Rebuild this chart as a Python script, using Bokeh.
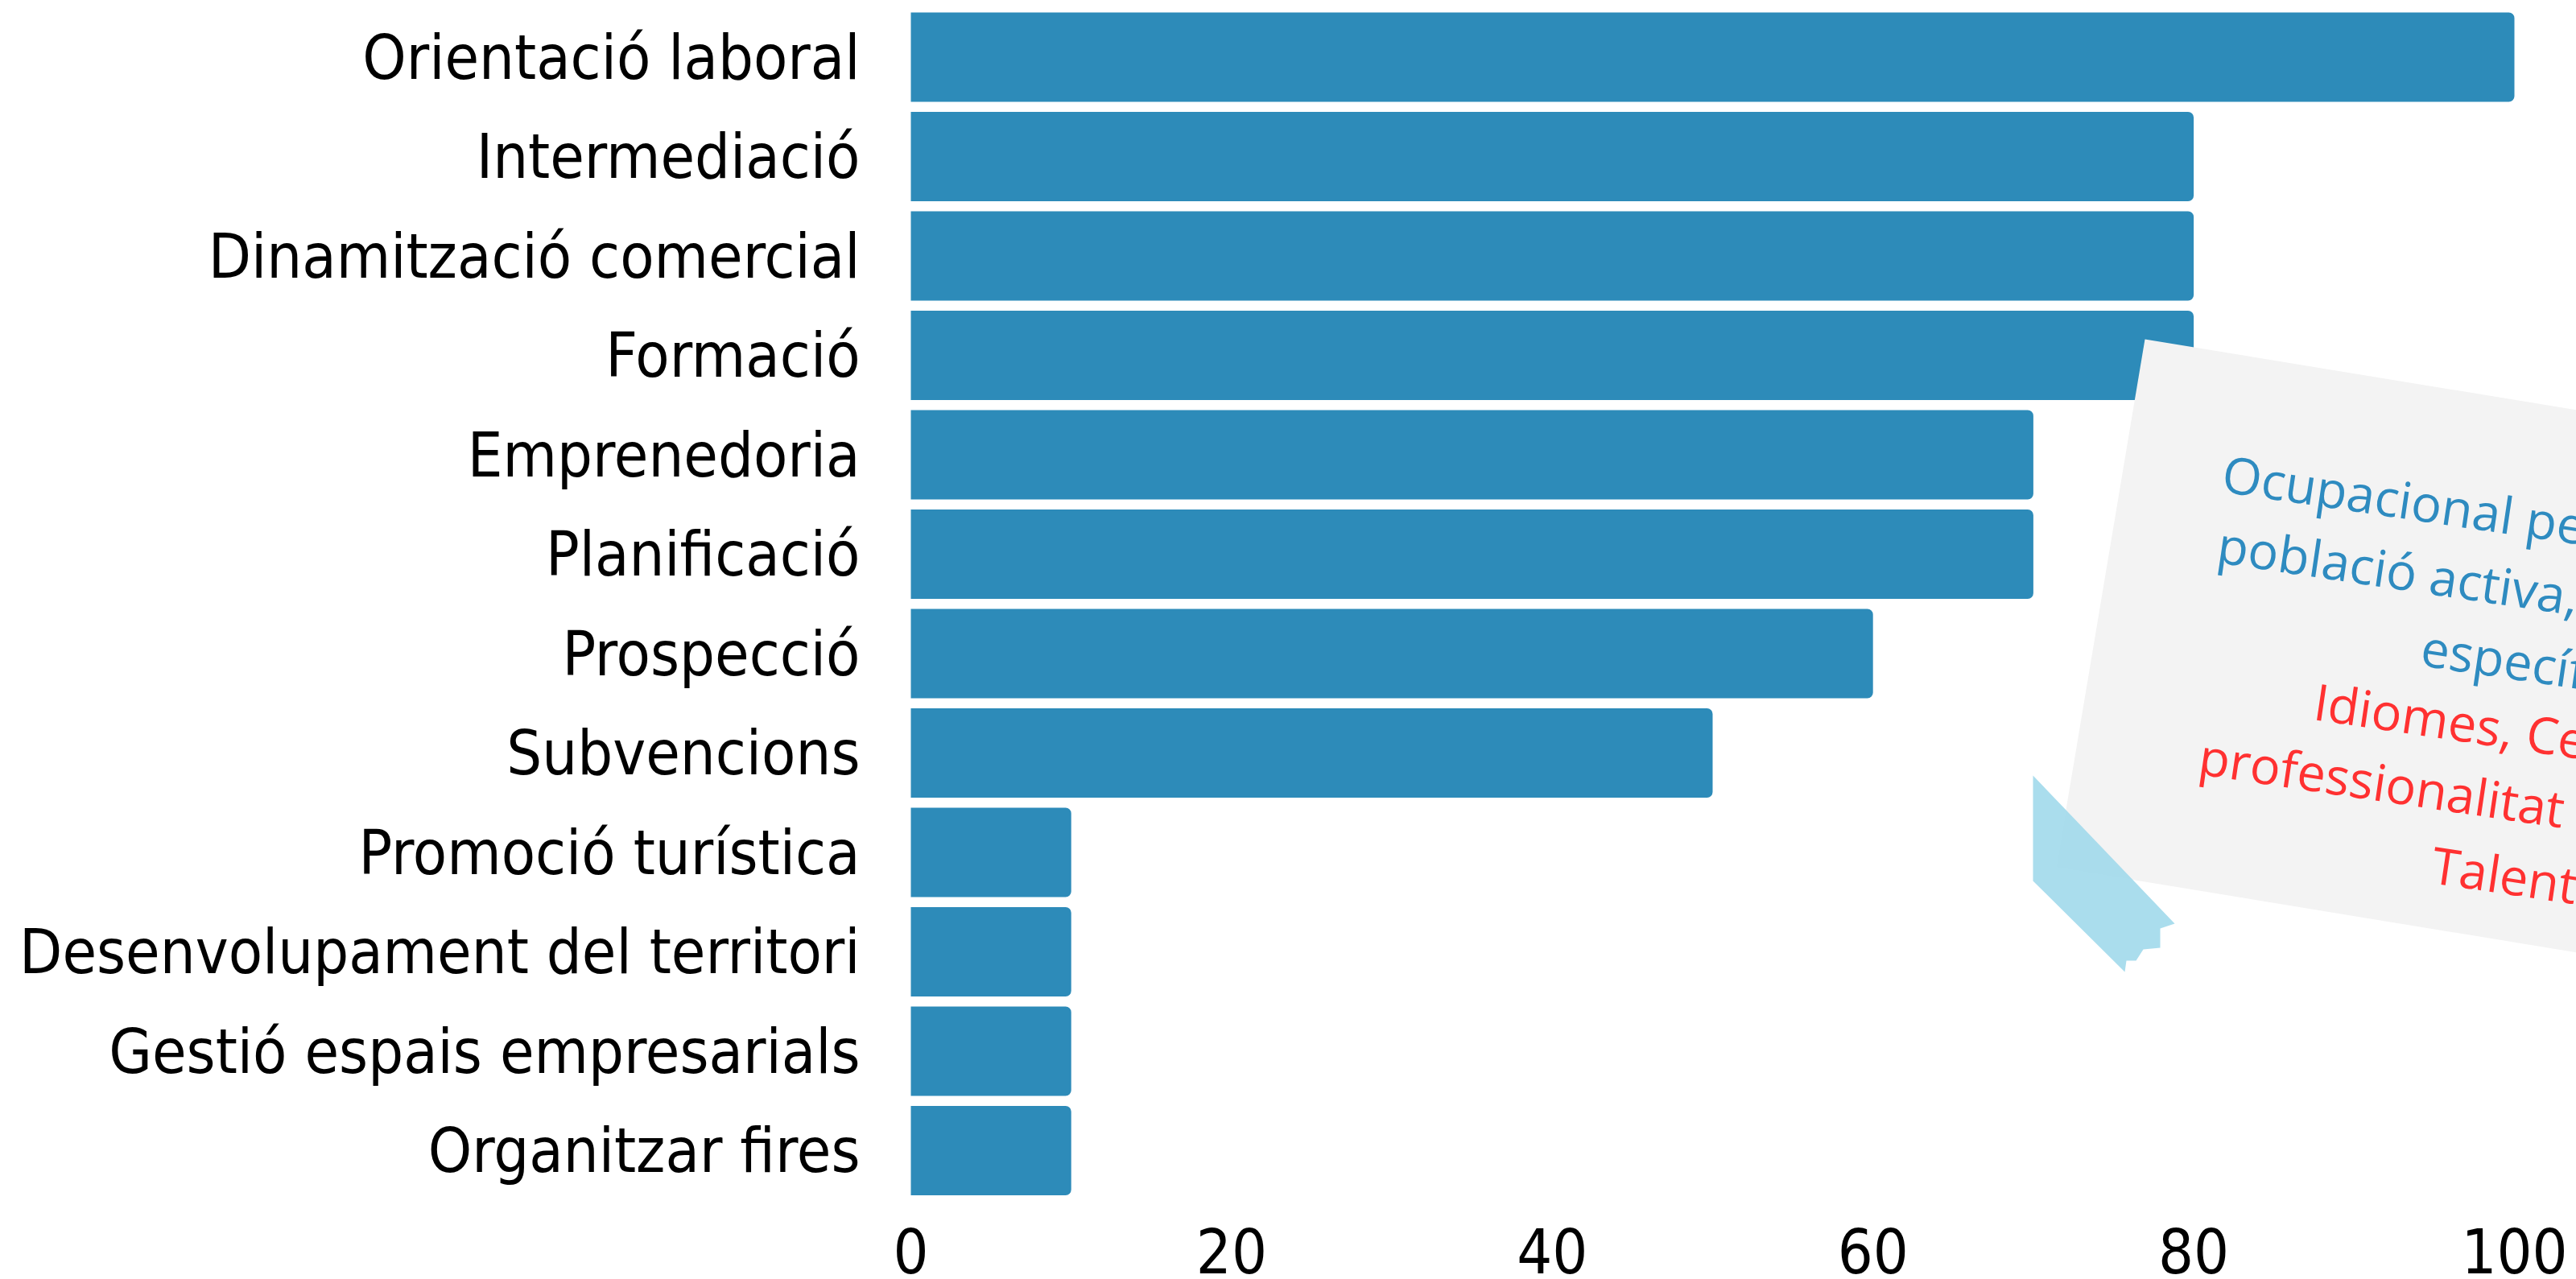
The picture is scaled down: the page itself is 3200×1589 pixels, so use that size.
from bokeh.plotting import figure
from bokeh.models import Range1d, FixedTicker, ColumnDataSource, LabelSet
from bokeh.core.properties import value
from bokeh.embed import file_html
from bokeh.resources import INLINE
import math

# ---------------- data ----------------
categories = ["Orientació laboral", "Intermediació", "Dinamització comercial", "Formació",
              "Emprenedoria", "Planificació", "Prospecció", "Subvencions",
              "Promoció turística", "Desenvolupament del territori",
              "Gestió espais empresarials", "Organitzar fires"]
values = [100, 80, 80, 80, 70, 70, 60, 50, 10, 10, 10, 10]
x_ticks = [0, 20, 40, 60, 80, 100]
x_tick_labels = ["0", "20", "40", "60", "80", "100"]
note_lines = ["Ocupacional per a la", "població activa, formació", "específica",
              "Idiomes, Certificats de", "professionalitat i", "Talent"]
note_colors = ["#2e8bc0", "#2e8bc0", "#2e8bc0", "#ff3131", "#ff3131", "#ff3131"]

# ---------------- layout ----------------
W, H = 3200, 1589
ZERO_X = 1131          # screen x of value 0
LEFT = 1095            # frame left edge (a little left of zero so the "0" label fits)
PX_PER_UNIT = 19.92
PITCH = 123.5
TOP_CENTER = 70.5
AXIS_FONT = "DejaVu Sans Condensed"
BAR_COLOR = "#2d8bb9"

n = len(categories)
ypos = [n - 1 - i for i in range(n)]
y_end = (n - 1) + TOP_CENTER / PITCH
y_start = y_end - H / PITCH

p = figure(width=W, height=H,
           x_range=Range1d(-(ZERO_X - LEFT) / PX_PER_UNIT, (W - ZERO_X) / PX_PER_UNIT),
           y_range=Range1d(y_start, y_end),
           output_backend="svg", toolbar_location=None,
           x_axis_location=None,
           min_border_left=LEFT, min_border_right=0,
           min_border_top=0, min_border_bottom=0)
p.extra_x_ranges = {"px": Range1d(LEFT, W)}
p.extra_y_ranges = {"px": Range1d(H, 0)}

p.grid.visible = False
p.outline_line_color = None
p.background_fill_color = "white"
p.border_fill_color = "white"

# bars
src = ColumnDataSource(dict(y=ypos, v=values, cat=categories))
p.hbar(y="y", left=0, right="v", height=0.9, source=src,
       fill_color=BAR_COLOR, line_color=None, border_radius=(0, 7, 7, 0))

# y axis
ax = p.yaxis[0]
ax.ticker = FixedTicker(ticks=ypos)
ax.major_label_overrides = {y: c for y, c in zip(ypos, categories)}
ax.major_label_text_font = AXIS_FONT
ax.major_label_text_font_size = "77px"
ax.major_label_text_color = "black"
ax.major_label_standoff = 63 - (ZERO_X - LEFT)
ax.major_tick_out = 0
ax.major_tick_in = 0
ax.minor_tick_out = 0
ax.minor_tick_in = 0
ax.axis_line_color = None

# x tick labels
tick_y = 1553
tsrc = ColumnDataSource(dict(x=x_ticks, y=[tick_y] * len(x_ticks), t=x_tick_labels))
p.add_layout(LabelSet(x="x", y="y", text="t", source=tsrc, y_range_name="px",
                      text_font=value(AXIS_FONT), text_font_size="77px",
                      text_color="black", text_align="center",
                      text_baseline="middle"))

# ---------------- note (sticky paper) ----------------
ang = math.radians(9.3)
d = (math.cos(ang), math.sin(ang))
tl = (2664, 421)
bl = (2554, 1077)
tr = (tl[0] + 1000 * d[0], tl[1] + 1000 * d[1])
br = (bl[0] + 1000 * d[0], bl[1] + 1000 * d[1])
box = [tl, tr, br, bl]
p.patch(x=[q[0] for q in box], y=[q[1] for q in box],
        x_range_name="px", y_range_name="px",
        fill_color="#f3f3f3", line_color=None)

tape = [(2525, 963), (2701, 1147), (2683, 1153), (2683, 1177), (2662, 1179),
        (2653, 1193), (2641, 1193), (2639, 1207), (2525, 1094)]
p.patch(x=[q[0] for q in tape], y=[q[1] for q in tape],
        x_range_name="px", y_range_name="px",
        fill_color="#a3daec", fill_alpha=0.92, line_color=None)

starts = [(2761, 586), (2755, 674), (3008, 802), (2875, 869), (2732, 937), (3021, 1072)]
nsrc = ColumnDataSource(dict(x=[q[0] for q in starts], y=[q[1] for q in starts],
                             t=note_lines, col=note_colors))
p.text(x="x", y="y", text="t", color="col", source=nsrc,
       x_range_name="px", y_range_name="px",
       angle=-math.radians(8.4),
       text_font=value("Open Sans"), text_font_size="63px",
       text_align="left", text_baseline="alphabetic")

open("out.html", "w").write(file_html(p, INLINE))
